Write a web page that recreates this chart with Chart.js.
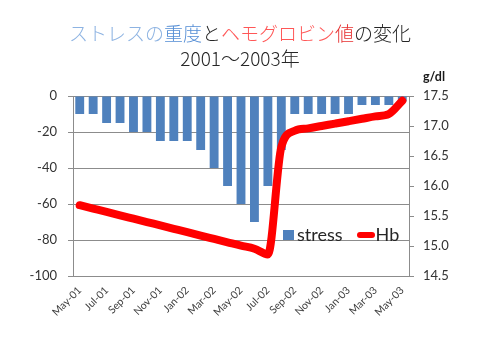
<!DOCTYPE html>
<html>
<head>
<meta charset="utf-8">
<script src="https://cdn.jsdelivr.net/npm/chart.js@4/dist/chart.umd.min.js"></script>
<style>
  html, body { margin: 0; padding: 0; background: #fff; }
  #wrap { position: relative; width: 480px; height: 358px; overflow: hidden; }
  #c { position: absolute; left: 0; top: 0; }
  #title { position: absolute; left: 0; top: 20px; width: 480px; text-align: center;
           font-family: "Noto Sans CJK JP", sans-serif; font-weight: 300; font-size: 19px; line-height: 25px; color: #262626; }
  #unit { position: absolute; left: 423px; top: 69px; font-family: Lato, "DejaVu Sans", sans-serif;
          font-weight: bold; font-size: 12.5px; color: #1a1a1a; }
  #legend { position: absolute; left: 283px; top: 224px; height: 20px; display: flex; align-items: center;
            font-family: Lato, "DejaVu Sans", sans-serif; font-size: 18px; color: #262626; }
  .sw { display: inline-block; width: 11px; height: 10px; background: #4f81bd; margin-right: 3px; margin-top: 2px; }
  .ln { display: inline-block; width: 18px; height: 6px; border-radius: 3px; background: #ff0000; margin-left: 14px; margin-right: 1px; margin-top: 1px; }
</style>
</head>
<body>
<div id="wrap">
  <canvas id="c" width="480" height="358"></canvas>
  <div id="title"><span style="color:#8db3e2">ストレスの</span><span style="color:#558ed5">重度</span><span>と</span><span style="color:#ff5757">ヘモグロビン</span><span style="color:#e62e2e">値</span><span>の変化</span><br>2001～2003年</div>
  <div id="unit">g/dl</div>
  <div id="legend"><span class="sw"></span><span id="lg1">stress</span><span class="ln"></span><span id="lg2">Hb</span></div>
</div>
<script>
const categories = ["May-01","Jun-01","Jul-01","Aug-01","Sep-01","Oct-01","Nov-01","Dec-01",
  "Jan-02","Feb-02","Mar-02","Apr-02","May-02","Jun-02","Jul-02","Aug-02","Sep-02","Oct-02",
  "Nov-02","Dec-02","Jan-03","Feb-03","Mar-03","Apr-03","May-03"];
const stressValues = [-10,-10,-15,-15,-20,-20,-25,-25,-25,-30,-40,-50,-60,-70,-50,-30,
  -10,-10,-10,-10,-10,-5,-5,-5,-3];
const hbValues = [15.680,15.624,15.568,15.511,15.455,15.399,15.343,15.287,15.231,15.174,
  15.118,15.062,15.006,14.955,14.860,16.650,16.920,16.960,17.000,17.040,17.080,17.120,
  17.160,17.200,17.420];
const leftTicks = { min: -100, max: 0, step: 20 };
const rightTicks = { min: 14.5, max: 17.5, step: 0.5 };

const tickFont = { family: "Lato, 'DejaVu Sans', sans-serif", size: 13 };
const gridColor = "#8c8c8c";

new Chart(document.getElementById("c"), {
  data: {
    labels: categories,
    datasets: [
      { type: "line", label: "Hb", data: hbValues, yAxisID: "y1", order: 0,
        borderColor: "#ff0000", backgroundColor: "#ff0000", borderWidth: 8,
        pointRadius: 0, cubicInterpolationMode: "monotone", tension: 0.4,
        borderCapStyle: "round", borderJoinStyle: "round" },
      { type: "bar", label: "stress", data: stressValues, yAxisID: "y", order: 1,
        backgroundColor: "#4f81bd", barPercentage: 0.66, categoryPercentage: 1.0 }
    ]
  },
  options: {
    responsive: false, animation: false,
    layout: { padding: { top: 96, left: 0, right: 0, bottom: 0 } },
    plugins: { legend: { display: false }, tooltip: { enabled: false }, title: { display: false } },
    scales: {
      x: {
        grid: { display: true, drawOnChartArea: false, drawTicks: false, color: gridColor },
        border: { display: true, color: gridColor },
        ticks: { autoSkip: false, minRotation: 45, maxRotation: 45, padding: 8,
          font: { family: "Lato, 'DejaVu Sans', sans-serif", size: 10.5 }, color: "#404040",
          callback: function(v, i) { return i % 2 === 0 ? categories[i] : ""; } },
        afterFit: function(s) { s.height = 82; }
      },
      y: {
        position: "left", min: leftTicks.min, max: leftTicks.max,
        ticks: { stepSize: leftTicks.step, font: tickFont, color: "#333", padding: 11 },
        grid: { color: gridColor, tickLength: 5, lineWidth: 1 },
        border: { display: true, color: gridColor },
        afterFit: function(s) { s.width = 73; }
      },
      y1: {
        position: "right", min: rightTicks.min, max: rightTicks.max,
        ticks: { stepSize: rightTicks.step, font: tickFont, color: "#333", padding: 9 },
        grid: { drawOnChartArea: false, color: gridColor, tickLength: 5 },
        border: { display: true, color: gridColor },
        afterFit: function(s) { s.width = 71; }
      }
    }
  }
});
</script>
</body>
</html>
